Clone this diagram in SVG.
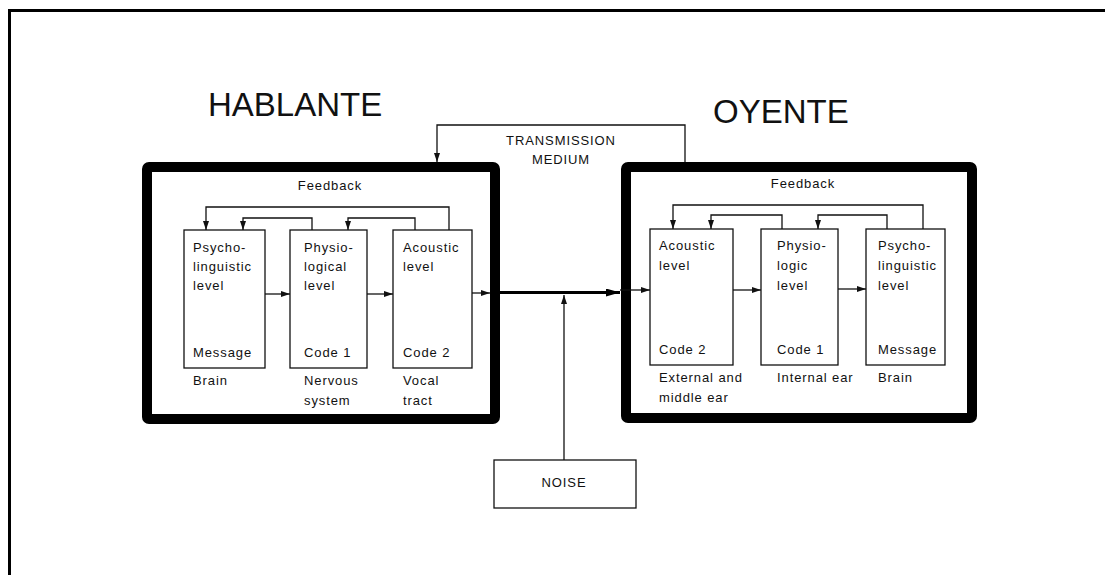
<svg xmlns="http://www.w3.org/2000/svg" width="1105" height="575" viewBox="0 0 1105 575">
<style>
text{font-family:"Liberation Sans",Arial,sans-serif;fill:#111;}
.t{font-size:13px;letter-spacing:0.9px;}
.big{font-size:33px;}
.box{fill:#fff;stroke:#111;stroke-width:1.3;}
.frame{fill:none;stroke:#000;stroke-width:10;}
.ln{fill:none;stroke:#111;stroke-width:1.3;}
.thick{fill:none;stroke:#000;stroke-width:3.2;}
</style>
<defs>
<marker id="ah" markerWidth="9" markerHeight="6" refX="9" refY="3" orient="auto" markerUnits="userSpaceOnUse">
<path d="M0,0 L9,3 L0,6 z" fill="#111"/>
</marker>
<marker id="ahb" markerWidth="14" markerHeight="8" refX="14" refY="4" orient="auto" markerUnits="userSpaceOnUse">
<path d="M0,0 L14,4 L0,8 z" fill="#000"/>
</marker>
</defs>
<rect width="1105" height="575" fill="#fff"/>
<path d="M9.5,575 V10.5 H1105" fill="none" stroke="#000" stroke-width="3"/>

<g id="title-hablante"><text class="big" x="208" y="116">HABLANTE</text></g>
<g id="title-oyente"><text class="big" x="713" y="123">OYENTE</text></g>

<g id="hablante">
<rect class="frame" x="147" y="167" width="348" height="252" rx="2"/>
<text class="t" x="330" y="190" text-anchor="middle">Feedback</text>
</g>
<g id="oyente">
<rect class="frame" x="626" y="167" width="346" height="251" rx="2"/>
<text class="t" x="803" y="188" text-anchor="middle">Feedback</text>
</g>

<g id="transmission-medium">
<text class="t" x="561" y="145" text-anchor="middle">TRANSMISSION</text>
<text class="t" x="561" y="164" text-anchor="middle">MEDIUM</text>
</g>

<g id="h-psycho">
<rect class="box" x="184" y="230" width="81" height="138"/>
<text class="t" x="193" y="252">Psycho-</text>
<text class="t" x="193" y="271">linguistic</text>
<text class="t" x="193" y="290">level</text>
<text class="t" x="193" y="357">Message</text>
<text class="t" x="193" y="385">Brain</text>
</g>
<g id="h-physio">
<rect class="box" x="290" y="230" width="77" height="138"/>
<text class="t" x="304" y="252">Physio-</text>
<text class="t" x="304" y="271">logical</text>
<text class="t" x="304" y="290">level</text>
<text class="t" x="304" y="357">Code 1</text>
<text class="t" x="304" y="385">Nervous</text>
<text class="t" x="304" y="405">system</text>
</g>
<g id="h-acoustic">
<rect class="box" x="393" y="230" width="79" height="138"/>
<text class="t" x="403" y="252">Acoustic</text>
<text class="t" x="403" y="271">level</text>
<text class="t" x="403" y="357">Code 2</text>
<text class="t" x="403" y="385">Vocal</text>
<text class="t" x="403" y="405">tract</text>
</g>

<g id="o-acoustic">
<rect class="box" x="650" y="229" width="83" height="136"/>
<text class="t" x="659" y="250">Acoustic</text>
<text class="t" x="659" y="270">level</text>
<text class="t" x="659" y="354">Code 2</text>
<text class="t" x="659" y="382">External and</text>
<text class="t" x="659" y="402">middle ear</text>
</g>
<g id="o-physio">
<rect class="box" x="761" y="229" width="77" height="136"/>
<text class="t" x="777" y="250">Physio-</text>
<text class="t" x="777" y="270">logic</text>
<text class="t" x="777" y="290">level</text>
<text class="t" x="777" y="354">Code 1</text>
<text class="t" x="777" y="382">Internal ear</text>
</g>
<g id="o-psycho">
<rect class="box" x="866" y="229" width="79" height="136"/>
<text class="t" x="878" y="250">Psycho-</text>
<text class="t" x="878" y="270">linguistic</text>
<text class="t" x="878" y="290">level</text>
<text class="t" x="878" y="354">Message</text>
<text class="t" x="878" y="382">Brain</text>
</g>

<g id="noise">
<rect class="box" x="494" y="460" width="142" height="48"/>
<text class="t" x="564" y="487" text-anchor="middle">NOISE</text>
</g>

<g id="connectors">
<path class="ln" d="M685,162 V125 H437 V162" marker-end="url(#ah)"/>
<path class="ln" d="M449,230 V207 H206 V230" marker-end="url(#ah)"/>
<path class="ln" d="M312,230 V218 H243 V230" marker-end="url(#ah)"/>
<path class="ln" d="M415,230 V218 H348 V230" marker-end="url(#ah)"/>
<path class="ln" d="M265,294 H290" marker-end="url(#ah)"/>
<path class="ln" d="M367,294 H393" marker-end="url(#ah)"/>
<path class="ln" d="M472,293 H490" marker-end="url(#ah)"/>
<path class="thick" d="M490,292.5 H620" marker-end="url(#ahb)"/>
<path class="ln" d="M620,290 H650" marker-end="url(#ah)"/>
<path class="ln" d="M564,460 V295" marker-end="url(#ah)"/>
<path class="ln" d="M923,229 V205 H673 V229" marker-end="url(#ah)"/>
<path class="ln" d="M782,229 V215 H711 V229" marker-end="url(#ah)"/>
<path class="ln" d="M887,229 V215 H818 V229" marker-end="url(#ah)"/>
<path class="ln" d="M733,290 H761" marker-end="url(#ah)"/>
<path class="ln" d="M838,289 H866" marker-end="url(#ah)"/>
</g>
</svg>
